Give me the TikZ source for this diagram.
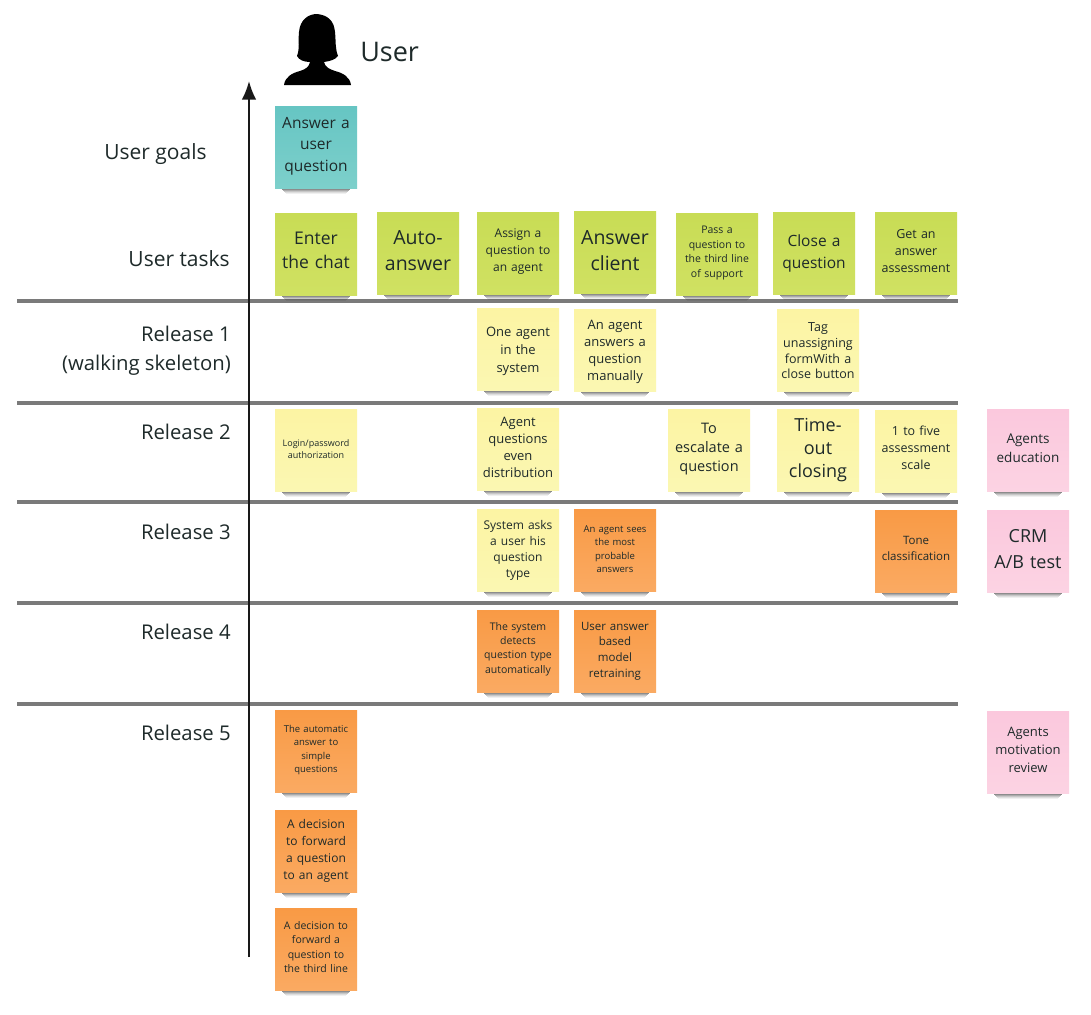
\documentclass[tikz,border=0pt]{standalone}
\usepackage{fontspec}
\setmainfont{Open Sans}
\usetikzlibrary{arrows.meta}
\newdimen\pxa \newdimen\pxb
\newcommand{\pxfont}[2]{\pxa=#1pt \pxa=.75\pxa \pxb=#2pt \pxb=.75\pxb \fontsize{\the\pxa}{\the\pxb}\selectfont}
\definecolor{inkc}{HTML}{1E2A2A}
\definecolor{HTMLteal}{HTML}{66C5C3}\definecolor{HTMLtealb}{HTML}{7DD0CB}
\definecolor{HTMLgreen}{HTML}{C8DC55}\definecolor{HTMLgreenb}{HTML}{D0E162}
\definecolor{HTMLyellow}{HTML}{FCF4A3}\definecolor{HTMLyellowb}{HTML}{FBF7B2}
\definecolor{HTMLorange}{HTML}{F99A45}\definecolor{HTMLorangeb}{HTML}{FAAA62}
\definecolor{HTMLpink}{HTML}{FBC8DD}\definecolor{HTMLpinkb}{HTML}{FCD3E3}
\tikzset{
  note/.style={minimum width=61.5pt,minimum height=61.5pt,inner sep=0pt,text width=58pt,align=center,text=inkc},
  tealnote/.style={note,top color=HTMLteal,bottom color=HTMLtealb},
  greennote/.style={note,top color=HTMLgreen,bottom color=HTMLgreenb},
  yellownote/.style={note,top color=HTMLyellow,bottom color=HTMLyellowb},
  orangenote/.style={note,top color=HTMLorange,bottom color=HTMLorangeb},
  pinknote/.style={note,top color=HTMLpink,bottom color=HTMLpinkb},
  rowlabel/.style={anchor=east,align=right,inner sep=0pt,text=inkc,font=\pxfont{20.3}{29}},
  rowline/.style={draw=black!52,line width=2.4pt},
  axisline/.style={draw=black!90,line width=1.6pt,-{Latex[length=14pt,width=11pt]}},
  noteshadow/.style={fill=black,draw=none}
}
% [text shift down, px], name, x, y, style, font px, leading px, text
\newcommand{\sticky}[8][0]{%
  \foreach \k/\o in {0/.55,1/.45,2/.33,3/.22,4/.13,5/.06}{
    \fill[noteshadow,opacity=\o] (#3-35+\k,#4+41+\k) rectangle (#3+35-\k,#4+42+\k);
  }
  \node[#5,font=\pxfont{#6}{#7}] (#2) at (#3,#4) {#8\par\vspace{\dimexpr -#1pt*3/2\relax}};
}
\begin{document}
\begin{tikzpicture}[x=.75pt,y=-.75pt]
\useasboundingbox[fill=white] (0,0) rectangle (1091,1014);
% rows
\foreach \n/\y in {a/301,b/403,c/502,d/603,e/704}{
  \coordinate (l\n) at (17,\y);
  \coordinate (r\n) at (958,\y);
  \draw[rowline] (l\n) -- (r\n);
}
% axis
\coordinate (axisbottom) at (249,957);
\coordinate (axistop) at (249,81);
\draw[axisline] (axisbottom) -- (axistop);
% person
\fill[black] (284,85) .. controls (285,77) and (292,73) .. (300,71)
  .. controls (306,69) and (309,67) .. (310,62)
  .. controls (304,62) and (299,60) .. (297,56)
  .. controls (300,48) and (298,42) .. (299,32)
  .. controls (300,20) and (308,14) .. (317,14)
  .. controls (327,15) and (334,20) .. (335,32)
  .. controls (336,42) and (335,48) .. (338,56)
  .. controls (335,60) and (330,61) .. (324,62)
  .. controls (325,67) and (329,69) .. (335,71)
  .. controls (343,73) and (350,77) .. (351,85) -- cycle;
\node[anchor=west,inner sep=0pt,text=inkc,font=\pxfont{27}{32}] (usertitle) at (360,52) {User};
% labels
\node[anchor=center,inner sep=0pt,text=inkc,font=\pxfont{21}{29}] (goals) at (155.5,154) {User goals};
\node[rowlabel,font=\pxfont{21}{29}] (tasks) at (230,259) {User tasks};
\node[rowlabel] (r1) at (231,350.5) {Release 1\\(walking skeleton)};
\node[rowlabel] (r2) at (231,432) {Release 2};
\node[rowlabel] (r3) at (231,532) {Release 3};
\node[rowlabel] (r4) at (231,632) {Release 4};
\node[rowlabel] (r5) at (231,733) {Release 5};
% stickies
\sticky[-1]{goal}{316}{147}{tealnote}{15.5}{21.5}{Answer a\\user\\question}
\sticky[-4]{t1}{316}{254}{greennote}{17.5}{24}{Enter\\the chat}
\sticky[-2]{t2}{418}{253}{greennote}{19.5}{26}{Auto-\\answer}
\sticky[-1]{t3}{518}{253}{greennote}{12}{17}{Assign a\\question to\\an agent}
\sticky[-1]{t4}{615}{252}{greennote}{19.5}{26}{Answer\\client}
\sticky[-1]{t5}{717}{254}{greennote}{10.5}{14.5}{Pass a\\question to\\the third line\\of support}
\sticky{t6}{814}{253}{greennote}{15.5}{22}{Close a\\question}
\sticky[-2]{t7}{916}{253}{greennote}{12.5}{17}{Get an\\answer\\assessment}
\sticky[2]{a1}{518}{349}{yellownote}{13}{18}{One agent\\in the\\system}
\sticky[2]{a2}{615}{350}{yellownote}{13}{17}{An agent\\answers a\\question\\manually}
\sticky[1]{a3}{818}{350}{yellownote}{12.5}{15.7}{Tag\\unassigning\\formWith a\\close button}
\sticky[-1]{b1}{316}{450}{yellownote}{9}{12}{Login/password\\authorization}
\sticky[-2]{b2}{518}{449}{yellownote}{13}{17}{Agent\\questions\\even\\distribution}
\sticky[-1]{b3}{709}{450}{yellownote}{14.5}{19}{To\\escalate a\\question}
\sticky{b4}{818}{450}{yellownote}{18}{23}{Time-\\out\\closing}
\sticky[-3]{b5}{916}{451}{yellownote}{12.5}{17}{1 to five\\assessment\\scale}
\sticky[-2]{b6}{1028}{450}{pinknote}{13.5}{19}{Agents\\education}
\sticky[.5]{c1}{518}{550}{yellownote}{12}{16}{System asks\\a user his\\question\\type}
\sticky[-1]{c2}{615}{550}{orangenote}{9.5}{13.3}{An agent sees\\the most\\probable\\answers}
\sticky[-3]{c3}{916}{551}{orangenote}{11.5}{16}{Tone\\classification}
\sticky[-2]{c4}{1028}{551}{pinknote}{18}{26}{CRM\\A/B test}
\sticky[-2]{d1}{518}{651}{orangenote}{10.5}{14.3}{The system\\detects\\question type\\automatically}
\sticky{d2}{615}{651}{orangenote}{11.5}{15.7}{User answer\\based\\model\\retraining}
\sticky[-1]{e1}{316}{751}{orangenote}{9.5}{13.3}{The automatic\\answer to\\simple\\questions}
\sticky{e2}{316}{851}{orangenote}{12}{17}{A decision\\to forward\\a question\\to an agent}
\sticky[-2]{e3}{316}{949}{orangenote}{10.5}{14.3}{A decision to\\forward a\\question to\\the third line}
\sticky[-2]{e4}{1028}{752}{pinknote}{13}{18}{Agents\\motivation\\review}
\end{tikzpicture}
\end{document}
